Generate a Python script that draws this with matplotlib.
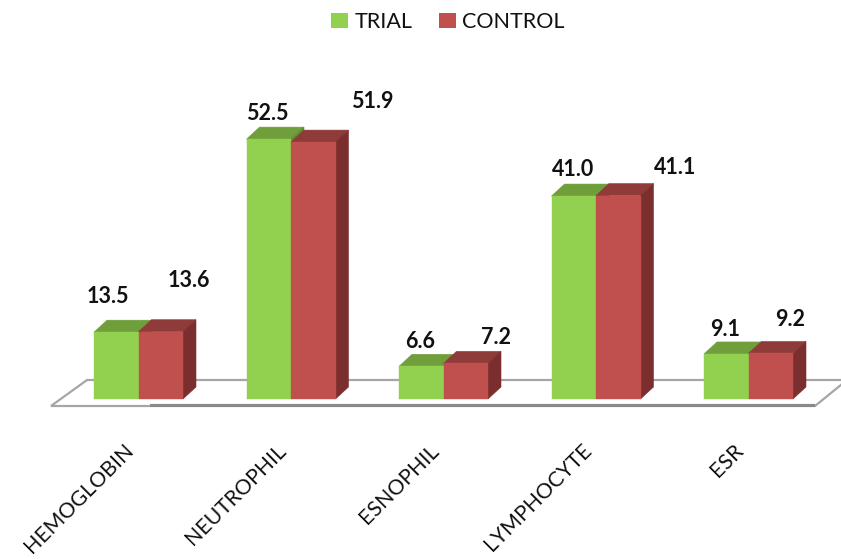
import numpy as np
import matplotlib
matplotlib.use('Agg')
import matplotlib.pyplot as plt
from matplotlib.patches import Patch, Polygon
from matplotlib.transforms import ScaledTranslation

categories = ['HEMOGLOBIN', 'NEUTROPHIL', 'ESNOPHIL', 'LYMPHOCYTE', 'ESR']
trial = [13.5, 52.5, 6.6, 41.0, 9.1]
control = [13.6, 51.9, 7.2, 41.1, 9.2]

plt.rcParams['font.family'] = ['Lato', 'DejaVu Sans']

W, H = 841, 559
PX_X = 152.5  # pixels per category
PX_Y = 4.95   # pixels per unit of value
BASE_X, BASE_Y = 138.5, 399
BOTTOM, TOP = 407, 50

def xpx(p):
    return (p - BASE_X) / PX_X

def ypx(p):
    return (BASE_Y - p) / PX_Y

fig = plt.figure(figsize=(W / 100, H / 100), dpi=100)
ax = fig.add_axes([0, 1 - BOTTOM / H, 1, (BOTTOM - TOP) / H])
ax.set_xlim(xpx(0), xpx(W))
ax.set_ylim(ypx(BOTTOM), ypx(TOP))
for s in ax.spines.values():
    s.set_visible(False)
ax.yaxis.set_visible(False)

# floor of the 3d chart
floor = [(51, 406), (815, 406), (847, 380), (87, 380)]
ax.add_patch(Polygon([(xpx(a), ypx(b)) for a, b in floor], closed=True, facecolor='white',
                     edgecolor='#a6a6a6', linewidth=1.6, zorder=1, clip_on=False))
ax.plot([xpx(150), xpx(815)], [ypx(406), ypx(406)], color='#8a8a8a', linewidth=3,
        solid_capstyle='butt', zorder=1.5)

bar_w = 44.5 / PX_X
dx = 13 / PX_X
dy = 12 / PX_Y

def draw_bars(x, vals, front, top, side, z):
    for xi, v in zip(x, vals):
        ax.add_patch(Polygon([(xi, v), (xi + bar_w, v), (xi + bar_w + dx, v + dy), (xi + dx, v + dy)],
                             closed=True, facecolor=top, edgecolor=top, linewidth=0.4, zorder=z))
        ax.add_patch(Polygon([(xi + bar_w, 0), (xi + bar_w + dx, dy), (xi + bar_w + dx, v + dy), (xi + bar_w, v)],
                             closed=True, facecolor=side, edgecolor=side, linewidth=0.4, zorder=z))
    ax.bar(x, vals, width=bar_w, align='edge', color=front, edgecolor=front, linewidth=0.3, zorder=z + 0.2)

x = np.arange(len(categories))
draw_bars(x - bar_w, trial, '#92d050', '#6f9e3a', '#5f8a32', 2)
draw_bars(x, control, '#c0504d', '#8f3b39', '#7a2f2e', 3)

# data labels sit at uneven offsets above each bar (pixels, centre of text)
trial_off = [(-31, 36), (-24, 26), (-23, 25), (-23, 27), (-23, 24)]
control_off = [(50, 51), (81, 41), (53, 26), (79, 28), (42, 34)]
for i in range(len(categories)):
    for vals, off in ((trial, trial_off), (control, control_off)):
        ax.annotate(f'{vals[i]:.1f}', (x[i], vals[i]), xytext=(off[i][0] * 0.72, off[i][1] * 0.72),
                    textcoords='offset points', ha='center', va='center',
                    fontsize=15.5, fontweight='bold', color='#111111', zorder=6)

ax.set_xticks(x)
ax.set_xticklabels(categories, rotation=45, ha='right', va='top', rotation_mode='anchor',
                   fontsize=15.3, color='#111111')
ax.tick_params(axis='x', length=0, pad=24)
shift = ScaledTranslation(-15 / 100, 0, fig.dpi_scale_trans)
for lab in ax.get_xticklabels():
    lab.set_transform(lab.get_transform() + shift)

handles = [Patch(facecolor='#92d050', label='TRIAL'), Patch(facecolor='#c0504d', label='CONTROL')]
fig.legend(handles=handles, ncols=2, loc='center', bbox_to_anchor=(448 / W, 1 - 22 / H), frameon=False,
           fontsize=15.5, handlelength=0.78, handleheight=0.75, handletextpad=0.28, columnspacing=1.25,
           labelcolor='#111111')

fig.savefig('out.png', dpi=100)
